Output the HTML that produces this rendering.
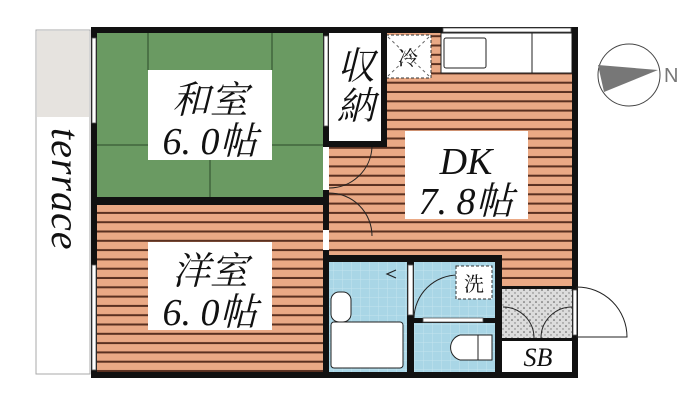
<!DOCTYPE html><html><head><meta charset="utf-8"><style>
body{margin:0;background:#fff;width:700px;height:414px;overflow:hidden}
text{font-family:"Liberation Serif","Noto Serif CJK SC",serif;font-style:italic}
</style></head><body>
<svg width="700" height="414" viewBox="0 0 700 414" xmlns="http://www.w3.org/2000/svg">
<defs>
<pattern id="wood" width="10" height="9.3" patternUnits="userSpaceOnUse">
<rect width="10" height="9.3" fill="#eaa985"/><rect y="7.3" width="10" height="2" fill="#5a3020"/></pattern>
<pattern id="tile" width="9" height="9" patternUnits="userSpaceOnUse">
<rect width="9" height="9" fill="#a9d6e6"/><path d="M0 0H9M0 0V9" stroke="#c4e4ef" stroke-width="1"/></pattern>
<pattern id="dots" width="6" height="6" patternUnits="userSpaceOnUse">
<rect width="6" height="6" fill="#dcdcdc"/><circle cx="2" cy="2" r="0.8" fill="#555"/><circle cx="5" cy="5" r="0.7" fill="#777"/></pattern>
</defs>
<rect x="36" y="30" width="54" height="344" fill="#fff" stroke="#aaa"/>
<rect x="37" y="31" width="52" height="86" fill="#e6e3df"/>
<text x="0" y="0" style="font-size:40px;letter-spacing:1px" fill="#111" transform="translate(52,128) rotate(90)">terrace</text>
<rect x="97" y="33" width="226" height="164" fill="#6a9a62"/>
<path d="M148 33V70M272 33V70M97 145H148M272 145H323M210 160V197" stroke="#2c4a2a" stroke-width="1"/>
<rect x="97" y="205" width="226" height="169" fill="url(#wood)"/>
<rect x="329" y="33" width="243" height="222" fill="url(#wood)"/>
<rect x="502" y="250" width="70" height="40" fill="url(#wood)"/>
<rect x="329" y="262" width="78" height="110" fill="url(#tile)"/>
<rect x="414" y="262" width="81" height="56" fill="url(#tile)"/>
<rect x="414" y="322" width="81" height="50" fill="url(#tile)"/>
<rect x="502" y="288" width="70" height="52" fill="url(#dots)"/>
<rect x="502" y="340" width="70" height="32" fill="#fff"/>
<rect x="329" y="33" width="52" height="109" fill="#fff"/>
<rect x="386" y="35" width="45" height="43" fill="#fff" stroke="#333" stroke-dasharray="3,2"/>
<path d="M388 37L429 76M429 37L388 76" stroke="#666" stroke-dasharray="3,3"/>
<rect x="441" y="33" width="131" height="40" fill="#fff" stroke="#222"/>
<rect x="444" y="38" width="42" height="30" rx="2" fill="#fff" stroke="#222"/>
<path d="M532 33V73" stroke="#222"/>
<g fill="#111">
<rect x="91" y="27" width="487" height="6"/>
<rect x="91" y="27" width="6" height="351"/>
<rect x="91" y="372" width="487" height="6"/>
<rect x="572" y="27" width="6" height="351"/>
<rect x="97" y="197" width="232" height="8"/>
<rect x="323" y="27" width="6" height="120"/>
<rect x="323" y="190" width="6" height="40"/>
<rect x="323" y="250" width="6" height="125"/>
<rect x="381" y="27" width="6" height="120"/>
<rect x="323" y="141" width="64" height="6"/>
<rect x="323" y="255" width="179" height="7"/>
<rect x="407" y="255" width="7" height="120"/>
<rect x="407" y="318" width="95" height="5"/>
<rect x="495" y="255" width="7" height="120"/>
<rect x="502" y="286" width="70" height="3"/>
<rect x="502" y="338" width="70" height="3"/>
</g>
<g fill="#fff" stroke="#555" stroke-width="0.8">
<rect x="92" y="38" width="4" height="85"/><rect x="92" y="265" width="4" height="105"/>
<rect x="324" y="36" width="4" height="90"/>
<rect x="443" y="28" width="128" height="4"/>
<rect x="573" y="290" width="4" height="45"/>
<rect x="408" y="265" width="5" height="50"/>
<rect x="423" y="318" width="60" height="4"/>
</g>
<g fill="none" stroke="#222" stroke-width="1">
<path d="M329 188A43 43 0 0 0 372 147"/>
<path d="M329 193A43 43 0 0 1 372 236"/>
<path d="M414 318A44 44 0 0 1 458 275"/>
<path d="M577 337V287A50 50 0 0 1 627 337Z"/>
<path d="M503 307A31 31 0 0 1 534 338M572 307A31 31 0 0 0 541 338"/>
<path d="M396 270L387 274L396 278" stroke-width="1.2"/>
<rect x="331" y="292" width="20" height="30" rx="8" fill="#fff"/>
<rect x="331" y="322" width="72" height="46" rx="3" fill="#fff"/>
<path d="M460 335H492V360H460A13 13 0 0 1 460 335Z" fill="#fff"/>
<path d="M478 335V360"/>
</g>
<rect x="456" y="266" width="36" height="33" fill="#fff" stroke="#333" stroke-dasharray="3,2"/>
<circle cx="629" cy="75" r="31" fill="#fff" stroke="#444"/>
<path d="M598 65L658 70L604 92Z" fill="#777"/>
<text x="664" y="82" style="font-size:20px;font-style:normal;font-family:'Liberation Sans',sans-serif" fill="#777">N</text>
<rect x="148" y="70" width="124" height="90" fill="#fff"/>
<rect x="148" y="242" width="124" height="88" fill="#fff"/>
<rect x="405" y="131" width="123" height="88" fill="#fff"/>
<g fill="#111" style="font-size:38px" text-anchor="middle">
<text x="210" y="113">和室</text><text x="210" y="154">6. 0帖</text>
<text x="210" y="284">洋室</text><text x="210" y="325">6. 0帖</text>
<text x="466" y="174">DK</text><text x="466" y="214">7. 8帖</text>
<text x="356" y="79">収</text><text x="356" y="119">納</text>
</g>
<text x="408" y="65" text-anchor="middle" fill="#111" style="font-size:20px;font-style:normal">冷</text>
<text x="474" y="291" text-anchor="middle" fill="#111" style="font-size:20px;font-style:normal">洗</text>
<text x="538" y="366" text-anchor="middle" fill="#111" style="font-size:26px">SB</text>
</svg>
</body></html>
